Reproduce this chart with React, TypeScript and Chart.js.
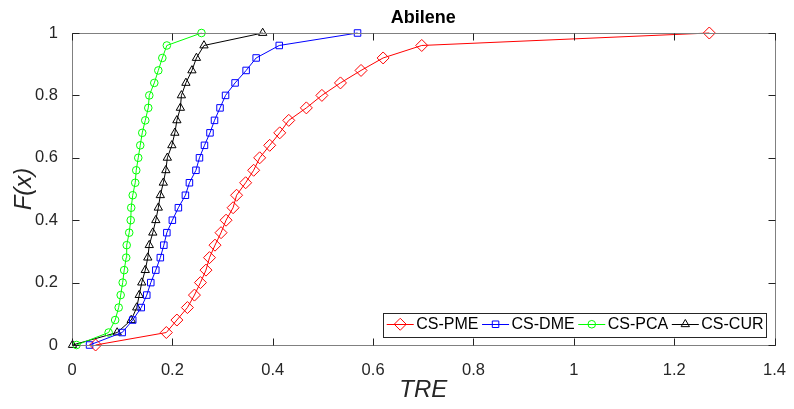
import React, { useEffect, useRef } from 'react';
import { Chart, registerables } from 'chart.js';
import { drawPoint } from 'chart.js/helpers';

Chart.register(...registerables);

const FONT = "'Liberation Sans', Arial, Helvetica, sans-serif";

const chartTitle = 'Abilene';
const xAxisTitle = 'TRE';
const yAxisTitle = 'F(x)';
const seriesNames = ['CS-PME', 'CS-DME', 'CS-PCA', 'CS-CUR'];

// CDF levels shared by every series
const fLevels = [
  0, 0.04, 0.08, 0.12, 0.16, 0.2, 0.24, 0.28, 0.32, 0.36, 0.4, 0.44, 0.48,
  0.52, 0.56, 0.6, 0.64, 0.68, 0.72, 0.76, 0.8, 0.84, 0.88, 0.92, 0.96, 1,
];

const trePME = [
  0.047, 0.188, 0.209, 0.230, 0.244, 0.256, 0.267, 0.274, 0.285, 0.297, 0.307,
  0.321, 0.328, 0.346, 0.362, 0.374, 0.394, 0.414, 0.432, 0.467, 0.498, 0.535,
  0.576, 0.620, 0.697, 1.27,
];
const treDME = [
  0.035, 0.100, 0.121, 0.138, 0.149, 0.157, 0.167, 0.176, 0.183, 0.189, 0.200,
  0.212, 0.226, 0.234, 0.247, 0.254, 0.264, 0.275, 0.284, 0.295, 0.306, 0.325,
  0.347, 0.367, 0.413, 0.569,
];
const trePCA = [
  0.009, 0.073, 0.086, 0.093, 0.097, 0.101, 0.104, 0.108, 0.109, 0.114, 0.117,
  0.118, 0.121, 0.126, 0.128, 0.132, 0.136, 0.140, 0.146, 0.152, 0.154, 0.164,
  0.172, 0.180, 0.189, 0.258,
];
const treCUR = [
  0.001, 0.090, 0.118, 0.129, 0.134, 0.139, 0.146, 0.151, 0.154, 0.161, 0.167,
  0.172, 0.176, 0.182, 0.187, 0.190, 0.199, 0.205, 0.209, 0.216, 0.218, 0.227,
  0.239, 0.248, 0.263, 0.380,
];

const seriesValues = [trePME, treDME, trePCA, treCUR];
const seriesColors = ['#ff0000', '#0000ff', '#00ff00', '#000000'];
const seriesMarkers = ['rectRot', 'rect', 'circle', 'triangle'];
const seriesMarkerRadius = [6, 4.6, 3.8, 4.8];

const boxPlugin = {
  id: 'matlabBox',
  afterDatasetsDraw(chart: any) {
    const { ctx, chartArea, scales } = chart;
    const l = Math.round(chartArea.left) + 0.5;
    const r = Math.round(chartArea.right) + 0.5;
    const t = Math.round(chartArea.top) + 0.5;
    const b = Math.round(chartArea.bottom) + 0.5;
    ctx.save();
    ctx.lineWidth = 1;
    ctx.strokeStyle = '#808080';
    ctx.strokeRect(l, t, r - l, b - t);
    ctx.strokeStyle = '#222222';
    const len = 7;
    ctx.beginPath();
    scales.x.ticks.forEach((tk: any) => {
      const px = Math.round(scales.x.getPixelForValue(tk.value)) + 0.5;
      ctx.moveTo(px, b);
      ctx.lineTo(px, b - len);
      ctx.moveTo(px, t);
      ctx.lineTo(px, t + len);
    });
    scales.y.ticks.forEach((tk: any) => {
      const py = Math.round(scales.y.getPixelForValue(tk.value)) + 0.5;
      ctx.moveTo(l, py);
      ctx.lineTo(l + len, py);
      ctx.moveTo(r, py);
      ctx.lineTo(r - len, py);
    });
    ctx.stroke();
    ctx.restore();
  },
};

const legendPlugin = {
  id: 'matlabLegend',
  afterDraw(chart: any) {
    const { ctx, chartArea } = chart;
    ctx.save();
    ctx.font = `16px ${FONT}`;
    const lineLen = 27;
    const padL = 3.5;
    const gapLT = 2.5;
    const gapItem = 3.6;
    const padR = 3;
    const h = 23.5;
    const items = chart.data.datasets.map((ds: any) => ({ ds, w: ctx.measureText(ds.label).width }));
    let total = padL;
    items.forEach((it: any, i: number) => {
      total += lineLen + gapLT + it.w + (i < items.length - 1 ? gapItem : padR);
    });
    const right = chartArea.right - 8;
    const bottom = chartArea.bottom - 9;
    const left = right - total;
    const top = bottom - h;
    ctx.fillStyle = '#ffffff';
    ctx.fillRect(left, top, total, h);
    ctx.strokeStyle = '#262626';
    ctx.lineWidth = 1;
    ctx.strokeRect(Math.round(left) + 0.5, Math.round(top) + 0.5, Math.round(total), Math.round(h));
    let x = left + padL;
    const cy = top + h / 2;
    items.forEach((it: any) => {
      const ds = it.ds;
      ctx.strokeStyle = ds.borderColor;
      ctx.lineWidth = 1;
      ctx.beginPath();
      ctx.moveTo(x, Math.round(cy) + 0.5);
      ctx.lineTo(x + lineLen, Math.round(cy) + 0.5);
      ctx.stroke();
      ctx.fillStyle = 'rgba(0,0,0,0)';
      drawPoint(ctx, { pointStyle: ds.pointStyle, radius: ds.pointRadius, borderWidth: 1, rotation: 0 } as any, x + lineLen / 2, cy);
      ctx.fillStyle = '#000000';
      ctx.textAlign = 'left';
      ctx.textBaseline = 'middle';
      ctx.fillText(ds.label, x + lineLen + gapLT, cy + 0.5);
      x += lineLen + gapLT + it.w + gapItem;
    });
    ctx.restore();
  },
};

export default function App() {
  const canvasRef = useRef<HTMLCanvasElement | null>(null);

  useEffect(() => {
    if (!canvasRef.current) return;
    const datasets = seriesNames.map((name, i) => ({
      label: name,
      data: seriesValues[i].map((x, j) => ({ x, y: fLevels[j] })),
      borderColor: seriesColors[i],
      backgroundColor: 'rgba(0,0,0,0)',
      pointBackgroundColor: 'rgba(0,0,0,0)',
      pointBorderColor: seriesColors[i],
      pointStyle: seriesMarkers[i],
      pointRadius: seriesMarkerRadius[i],
      pointBorderWidth: 1,
      borderWidth: 1,
      showLine: true,
      clip: false as any,
    }));
    const chart = new Chart(canvasRef.current, {
      type: 'scatter',
      data: { datasets },
      plugins: [boxPlugin, legendPlugin],
      options: {
        responsive: false,
        animation: false,
        devicePixelRatio: 1,
        layout: { padding: { left: 0, right: 17, top: 0, bottom: 0 } },
        plugins: {
          legend: { display: false },
          tooltip: { enabled: false },
          title: {
            display: true,
            text: chartTitle,
            fullSize: false,
            color: '#000000',
            font: { family: FONT, size: 18, weight: 'bold' },
            padding: { top: 7.5, bottom: 3.9 },
          },
        },
        scales: {
          x: {
            type: 'linear',
            min: 0,
            max: 1.4,
            afterFit: (s: any) => { s.height = 64; },
            grid: { display: false },
            border: { display: false },
            ticks: {
              stepSize: 0.2,
              color: '#262626',
              padding: 8,
              maxRotation: 0,
              font: { family: FONT, size: 16.5 },
              callback: (v: any) => String(Math.round(Number(v) * 10) / 10),
            },
            title: {
              display: true,
              text: xAxisTitle,
              color: '#262626',
              font: { family: FONT, size: 24, style: 'italic' },
              padding: { top: 0, bottom: 4 },
            },
          },
          y: {
            type: 'linear',
            min: 0,
            max: 1,
            afterFit: (s: any) => { s.width = 72; },
            grid: { display: false },
            border: { display: false },
            ticks: {
              stepSize: 0.2,
              color: '#262626',
              padding: 6,
              font: { family: FONT, size: 16.5 },
              callback: (v: any) => String(Math.round(Number(v) * 10) / 10),
            },
            title: {
              display: true,
              text: yAxisTitle,
              color: '#262626',
              font: { family: FONT, size: 24, style: 'italic' },
              padding: { top: 10, bottom: 0 },
            },
          },
        },
      } as any,
    });
    return () => chart.destroy();
  }, []);

  return (
    <div style={{ position: 'absolute', left: 0, top: 0, width: 794, height: 409, background: '#ffffff' }}>
      <canvas ref={canvasRef} width={794} height={409} style={{ display: 'block' }} />
    </div>
  );
}
